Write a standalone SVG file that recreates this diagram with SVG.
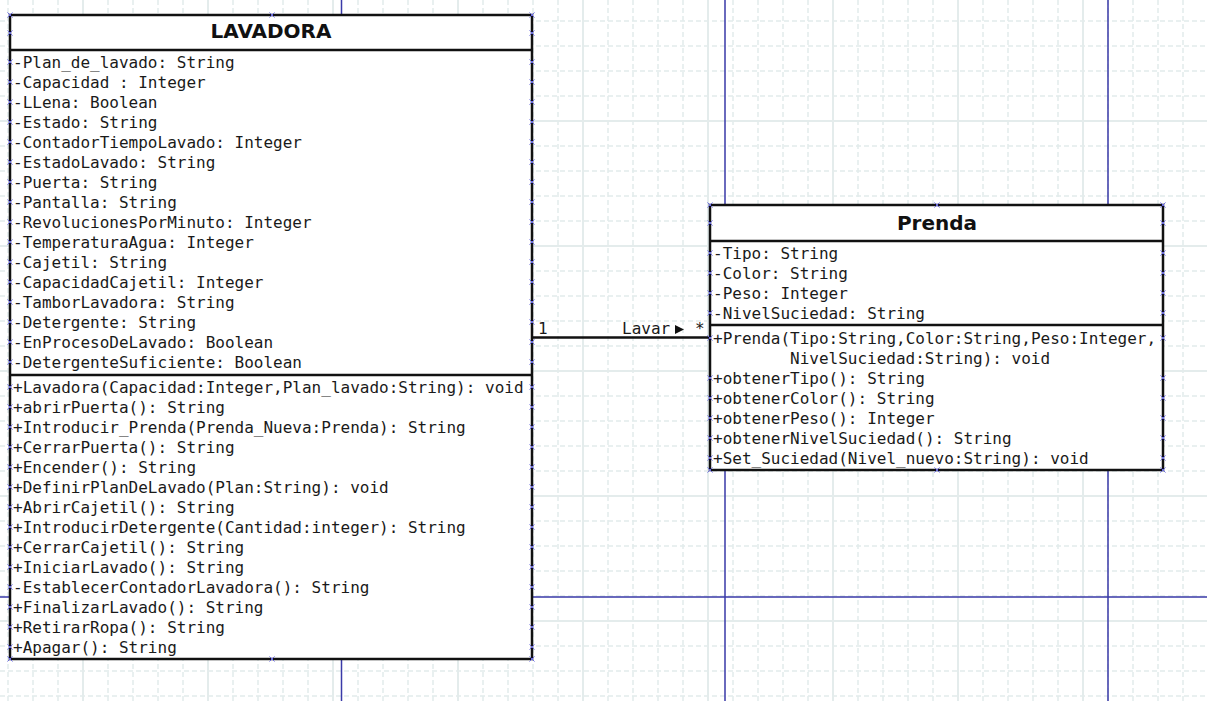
<svg xmlns="http://www.w3.org/2000/svg" xmlns:xlink="http://www.w3.org/1999/xlink" width="1207" height="701" viewBox="0 0 1207 701">
<style>
.gd{stroke:#e2ebeb;stroke-width:1.5;stroke-dasharray:5 3;fill:none}
.gs{stroke:#e4ecec;stroke-width:2;fill:none}
.pg{stroke:#3a3aa8;stroke-width:1.5;fill:none}
.box{fill:#fff;stroke:#111;stroke-width:2.5}
.sep{stroke:#111;stroke-width:2.5}
.t{font-family:"DejaVu Sans Mono","Liberation Mono",monospace;font-size:16px;fill:#1a1a1a}
.h{font-family:"DejaVu Sans","Liberation Sans",sans-serif;font-size:20px;font-weight:bold;fill:#111;text-anchor:middle}
.xm{stroke:#6b6be0;stroke-width:1;fill:none}
</style>
<defs>
<path id="xm" class="xm" d="M-2.5 -2.5L2.5 2.5M2.5 -2.5L-2.5 2.5"/>
</defs>
<rect width="1207" height="701" fill="#fff"/>
<g id="grid">
<path class="gd" d="M8 0V701M33 0V701M58 0V701M108 0V701M133 0V701M158 0V701M183 0V701M233 0V701M258 0V701M283 0V701M308 0V701M358 0V701M383 0V701M408 0V701M433 0V701M483 0V701M508 0V701M533 0V701M558 0V701M608 0V701M633 0V701M658 0V701M683 0V701M733 0V701M758 0V701M783 0V701M808 0V701M858 0V701M883 0V701M908 0V701M933 0V701M983 0V701M1008 0V701M1033 0V701M1058 0V701M1108 0V701M1133 0V701M1158 0V701M1183 0V701"/>
<path class="gd" d="M0 21H1207M0 46H1207M0 71H1207M0 96H1207M0 146H1207M0 171H1207M0 196H1207M0 221H1207M0 271H1207M0 296H1207M0 321H1207M0 346H1207M0 396H1207M0 421H1207M0 446H1207M0 471H1207M0 521H1207M0 546H1207M0 571H1207M0 596H1207M0 646H1207M0 671H1207M0 696H1207"/>
<path class="gs" d="M83 0V701M208 0V701M333 0V701M458 0V701M583 0V701M708 0V701M833 0V701M958 0V701M1083 0V701M0 121H1207M0 246H1207M0 371H1207M0 496H1207M0 621H1207"/>
<path class="pg" d="M341.5 0V701M725 0V701M1108 0V701M0 597H1207"/>
</g>
<g id="connectors">
<line x1="532" y1="337.5" x2="710" y2="337.5" stroke="#111" stroke-width="2.5"/>
<text class="t" x="538" y="334">1</text>
<text class="t" x="622" y="334">Lavar</text>
<polygon points="675,325 684,329.5 675,334" fill="#111"/>
<text class="t" x="695" y="334">*</text>
</g>
<g id="lavadora">
<rect class="box" x="10" y="15" width="522" height="644"/>
<line class="sep" x1="10" y1="50" x2="532" y2="50"/>
<line class="sep" x1="10" y1="375" x2="532" y2="375"/>
<text class="h" x="271" y="38">LAVADORA</text>
<text class="t" x="13" y="68">-Plan_de_lavado: String</text>
<text class="t" x="13" y="88">-Capacidad : Integer</text>
<text class="t" x="13" y="108">-LLena: Boolean</text>
<text class="t" x="13" y="128">-Estado: String</text>
<text class="t" x="13" y="148">-ContadorTiempoLavado: Integer</text>
<text class="t" x="13" y="168">-EstadoLavado: String</text>
<text class="t" x="13" y="188">-Puerta: String</text>
<text class="t" x="13" y="208">-Pantalla: String</text>
<text class="t" x="13" y="228">-RevolucionesPorMinuto: Integer</text>
<text class="t" x="13" y="248">-TemperaturaAgua: Integer</text>
<text class="t" x="13" y="268">-Cajetil: String</text>
<text class="t" x="13" y="288">-CapacidadCajetil: Integer</text>
<text class="t" x="13" y="308">-TamborLavadora: String</text>
<text class="t" x="13" y="328">-Detergente: String</text>
<text class="t" x="13" y="348">-EnProcesoDeLavado: Boolean</text>
<text class="t" x="13" y="368">-DetergenteSuficiente: Boolean</text>
<text class="t" x="13" y="393">+Lavadora(Capacidad:Integer,Plan_lavado:String): void</text>
<text class="t" x="13" y="413">+abrirPuerta(): String</text>
<text class="t" x="13" y="433">+Introducir_Prenda(Prenda_Nueva:Prenda): String</text>
<text class="t" x="13" y="453">+CerrarPuerta(): String</text>
<text class="t" x="13" y="473">+Encender(): String</text>
<text class="t" x="13" y="493">+DefinirPlanDeLavado(Plan:String): void</text>
<text class="t" x="13" y="513">+AbrirCajetil(): String</text>
<text class="t" x="13" y="533">+IntroducirDetergente(Cantidad:integer): String</text>
<text class="t" x="13" y="553">+CerrarCajetil(): String</text>
<text class="t" x="13" y="573">+IniciarLavado(): String</text>
<text class="t" x="13" y="593">-EstablecerContadorLavadora(): String</text>
<text class="t" x="13" y="613">+FinalizarLavado(): String</text>
<text class="t" x="13" y="633">+RetirarRopa(): String</text>
<text class="t" x="13" y="653">+Apagar(): String</text>
<g>
<use xlink:href="#xm" x="10" y="15"/><use xlink:href="#xm" x="272" y="15"/><use xlink:href="#xm" x="532" y="15"/>
<use xlink:href="#xm" x="10" y="659"/><use xlink:href="#xm" x="272" y="659"/><use xlink:href="#xm" x="532" y="659"/>
<use xlink:href="#xm" x="10" y="33"/><use xlink:href="#xm" x="532" y="33"/>
<use xlink:href="#xm" x="10" y="62"/><use xlink:href="#xm" x="532" y="62"/>
<use xlink:href="#xm" x="10" y="82"/><use xlink:href="#xm" x="532" y="82"/>
<use xlink:href="#xm" x="10" y="102"/><use xlink:href="#xm" x="532" y="102"/>
<use xlink:href="#xm" x="10" y="122"/><use xlink:href="#xm" x="532" y="122"/>
<use xlink:href="#xm" x="10" y="142"/><use xlink:href="#xm" x="532" y="142"/>
<use xlink:href="#xm" x="10" y="162"/><use xlink:href="#xm" x="532" y="162"/>
<use xlink:href="#xm" x="10" y="182"/><use xlink:href="#xm" x="532" y="182"/>
<use xlink:href="#xm" x="10" y="202"/><use xlink:href="#xm" x="532" y="202"/>
<use xlink:href="#xm" x="10" y="222"/><use xlink:href="#xm" x="532" y="222"/>
<use xlink:href="#xm" x="10" y="242"/><use xlink:href="#xm" x="532" y="242"/>
<use xlink:href="#xm" x="10" y="262"/><use xlink:href="#xm" x="532" y="262"/>
<use xlink:href="#xm" x="10" y="282"/><use xlink:href="#xm" x="532" y="282"/>
<use xlink:href="#xm" x="10" y="302"/><use xlink:href="#xm" x="532" y="302"/>
<use xlink:href="#xm" x="10" y="322"/><use xlink:href="#xm" x="532" y="322"/>
<use xlink:href="#xm" x="10" y="342"/><use xlink:href="#xm" x="532" y="342"/>
<use xlink:href="#xm" x="10" y="362"/><use xlink:href="#xm" x="532" y="362"/>
<use xlink:href="#xm" x="10" y="387"/><use xlink:href="#xm" x="532" y="387"/>
<use xlink:href="#xm" x="10" y="407"/><use xlink:href="#xm" x="532" y="407"/>
<use xlink:href="#xm" x="10" y="427"/><use xlink:href="#xm" x="532" y="427"/>
<use xlink:href="#xm" x="10" y="447"/><use xlink:href="#xm" x="532" y="447"/>
<use xlink:href="#xm" x="10" y="467"/><use xlink:href="#xm" x="532" y="467"/>
<use xlink:href="#xm" x="10" y="487"/><use xlink:href="#xm" x="532" y="487"/>
<use xlink:href="#xm" x="10" y="507"/><use xlink:href="#xm" x="532" y="507"/>
<use xlink:href="#xm" x="10" y="527"/><use xlink:href="#xm" x="532" y="527"/>
<use xlink:href="#xm" x="10" y="547"/><use xlink:href="#xm" x="532" y="547"/>
<use xlink:href="#xm" x="10" y="567"/><use xlink:href="#xm" x="532" y="567"/>
<use xlink:href="#xm" x="10" y="587"/><use xlink:href="#xm" x="532" y="587"/>
<use xlink:href="#xm" x="10" y="607"/><use xlink:href="#xm" x="532" y="607"/>
<use xlink:href="#xm" x="10" y="627"/><use xlink:href="#xm" x="532" y="627"/>
<use xlink:href="#xm" x="10" y="647"/><use xlink:href="#xm" x="532" y="647"/>
</g>
</g>
<g id="prenda">
<rect class="box" x="710" y="205" width="453" height="265"/>
<line class="sep" x1="710" y1="241" x2="1163" y2="241"/>
<line class="sep" x1="710" y1="325" x2="1163" y2="325"/>
<text class="h" x="937" y="230">Prenda</text>
<text class="t" x="713" y="259">-Tipo: String</text>
<text class="t" x="713" y="279">-Color: String</text>
<text class="t" x="713" y="299">-Peso: Integer</text>
<text class="t" x="713" y="319">-NivelSuciedad: String</text>
<text class="t" x="713" y="344">+Prenda(Tipo:String,Color:String,Peso:Integer,</text>
<text class="t" x="790" y="364">NivelSuciedad:String): void</text>
<text class="t" x="713" y="384">+obtenerTipo(): String</text>
<text class="t" x="713" y="404">+obtenerColor(): String</text>
<text class="t" x="713" y="424">+obtenerPeso(): Integer</text>
<text class="t" x="713" y="444">+obtenerNivelSuciedad(): String</text>
<text class="t" x="713" y="464">+Set_Suciedad(Nivel_nuevo:String): void</text>
<g>
<use xlink:href="#xm" x="710" y="205"/><use xlink:href="#xm" x="937" y="205"/><use xlink:href="#xm" x="1163" y="205"/>
<use xlink:href="#xm" x="710" y="470"/><use xlink:href="#xm" x="937" y="470"/><use xlink:href="#xm" x="1163" y="470"/>
<use xlink:href="#xm" x="710" y="223"/><use xlink:href="#xm" x="1163" y="223"/>
<use xlink:href="#xm" x="710" y="253"/><use xlink:href="#xm" x="1163" y="253"/>
<use xlink:href="#xm" x="710" y="273"/><use xlink:href="#xm" x="1163" y="273"/>
<use xlink:href="#xm" x="710" y="293"/><use xlink:href="#xm" x="1163" y="293"/>
<use xlink:href="#xm" x="710" y="313"/><use xlink:href="#xm" x="1163" y="313"/>
<use xlink:href="#xm" x="710" y="338"/><use xlink:href="#xm" x="1163" y="338"/>
<use xlink:href="#xm" x="710" y="378"/><use xlink:href="#xm" x="1163" y="378"/>
<use xlink:href="#xm" x="710" y="398"/><use xlink:href="#xm" x="1163" y="398"/>
<use xlink:href="#xm" x="710" y="418"/><use xlink:href="#xm" x="1163" y="418"/>
<use xlink:href="#xm" x="710" y="438"/><use xlink:href="#xm" x="1163" y="438"/>
<use xlink:href="#xm" x="710" y="458"/><use xlink:href="#xm" x="1163" y="458"/>
</g>
</g>
</svg>
